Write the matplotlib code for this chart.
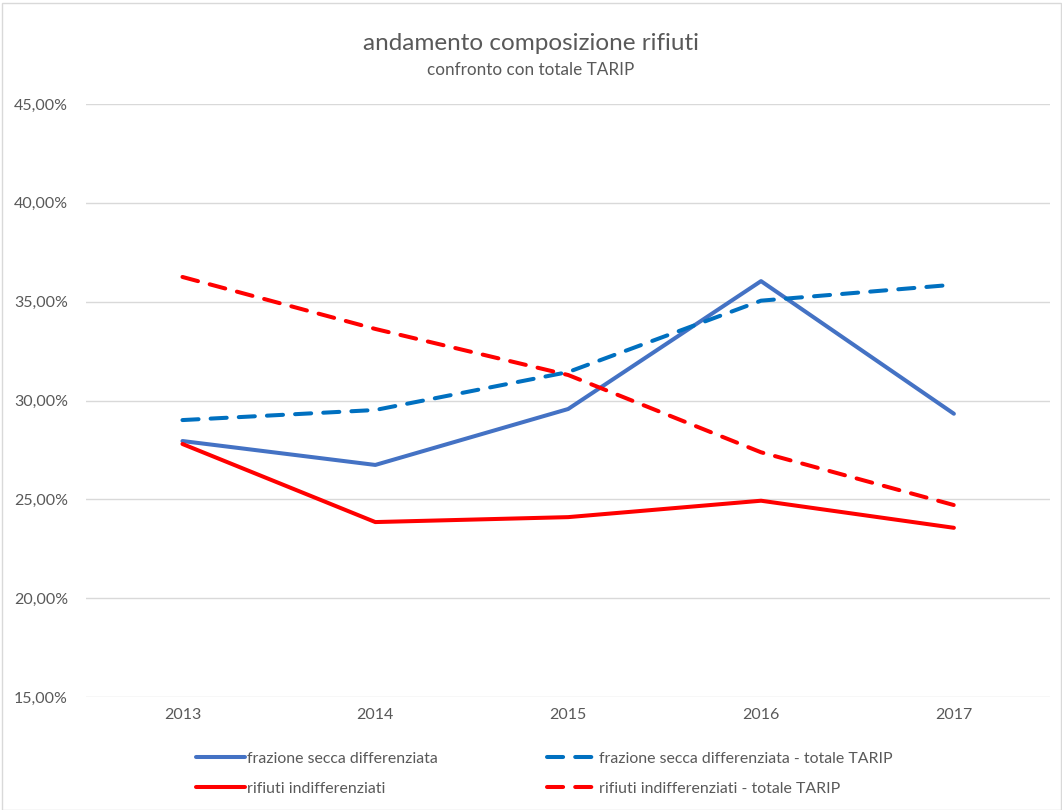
import matplotlib.pyplot as plt
from matplotlib.ticker import FuncFormatter
from matplotlib.patches import Rectangle

anni = ["2013", "2014", "2015", "2016", "2017"]
secca_diff = [27.95, 26.74, 29.57, 36.04, 29.33]
secca_diff_tarip = [29.01, 29.52, 31.44, 35.05, 35.86]
indiff = [27.80, 23.85, 24.10, 24.93, 23.56]
indiff_tarip = [36.25, 33.62, 31.29, 27.38, 24.71]

plt.rcParams['font.family'] = ['Lato', 'DejaVu Sans']
grigio = "#595959"

fig = plt.figure(figsize=(10.62, 8.1), dpi=100)
ax = fig.add_axes([0.081, 0.1395, 0.908, 0.7321])

x = range(len(anni))
lw = 2.9
ax.plot(x, secca_diff, color="#4472C4", lw=lw, solid_capstyle="round",
        label="frazione secca differenziata")
ax.plot(x, secca_diff_tarip, color="#0070C0", lw=lw, dashes=(4, 3), dash_capstyle="round",
        label="frazione secca differenziata - totale TARIP")
ax.plot(x, indiff, color="#FF0000", lw=lw, solid_capstyle="round",
        label="rifiuti indifferenziati")
ax.plot(x, indiff_tarip, color="#FF0000", lw=lw, dashes=(4, 3), dash_capstyle="round",
        label="rifiuti indifferenziati - totale TARIP")

ax.set_xlim(-0.5, 4.5)
ax.set_ylim(15, 45)
ax.set_yticks([15, 20, 25, 30, 35, 40, 45])
ax.yaxis.set_major_formatter(FuncFormatter(lambda v, p: f"{v:.2f}%".replace(".", ",")))
ax.set_xticks(list(x))
ax.set_xticklabels(anni)
ax.grid(axis="y", color="#D9D9D9", lw=1)
ax.set_axisbelow(True)
for s in ax.spines.values():
    s.set_visible(False)
ax.tick_params(length=0, labelsize=11.5, colors=grigio, pad=8)
ax.tick_params(axis="y", pad=13)

fig.text(0.5, 0.946, "andamento composizione rifiuti", ha="center", va="center",
         fontsize=17.5, color=grigio)
fig.text(0.5, 0.914, "confronto con totale TARIP", ha="center", va="center",
         fontsize=12.3, color=grigio)

h, l = ax.get_legend_handles_labels()
order = [0, 2, 1, 3]
fig.legend([h[i] for i in order], [l[i] for i in order], ncol=2, frameon=False,
           loc="center left", bbox_to_anchor=(0.171, 0.045), fontsize=11.4,
           labelcolor=grigio, handlelength=3.1, handletextpad=0.15,
           columnspacing=6.9, labelspacing=1.0)

fig.patches.append(Rectangle((0.002, 0.0), 0.997, 0.996, transform=fig.transFigure,
                             fill=False, edgecolor="#D9D9D9", lw=1))

fig.savefig("out.png", dpi=100)
